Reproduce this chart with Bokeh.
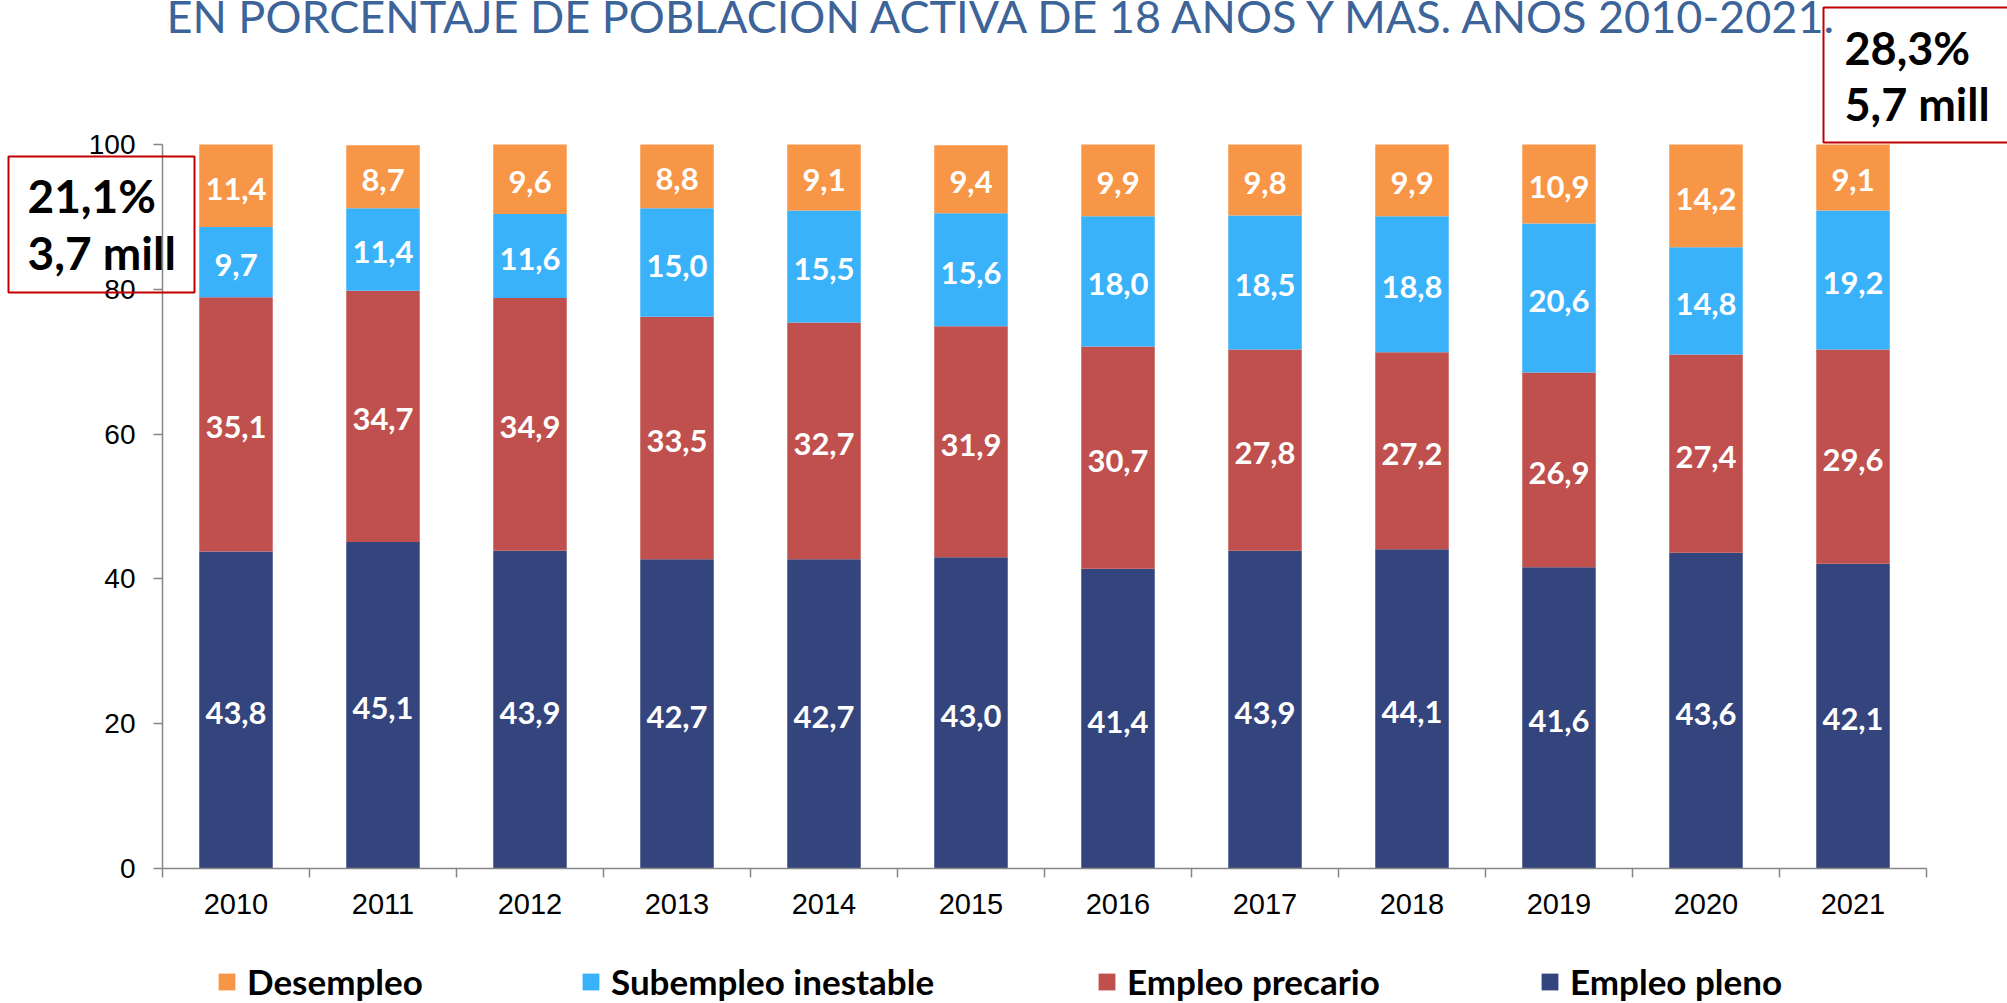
import numpy as np
from bokeh.plotting import figure
from bokeh.models import (ColumnDataSource, Range1d, FixedTicker, Label, BoxAnnotation,
                          Legend, LegendItem)
from bokeh.core.properties import value
from bokeh.embed import file_html
from bokeh.resources import INLINE

# ---------------- data ----------------
years = ["2010", "2011", "2012", "2013", "2014", "2015", "2016", "2017", "2018", "2019", "2020", "2021"]
empleo_pleno = [43.8, 45.1, 43.9, 42.7, 42.7, 43.0, 41.4, 43.9, 44.1, 41.6, 43.6, 42.1]
empleo_precario = [35.1, 34.7, 34.9, 33.5, 32.7, 31.9, 30.7, 27.8, 27.2, 26.9, 27.4, 29.6]
subempleo_inestable = [9.7, 11.4, 11.6, 15.0, 15.5, 15.6, 18.0, 18.5, 18.8, 20.6, 14.8, 19.2]
desempleo = [11.4, 8.7, 9.6, 8.8, 9.1, 9.4, 9.9, 9.8, 9.9, 10.9, 14.2, 9.1]
series_names = ["Empleo pleno", "Empleo precario", "Subempleo inestable", "Desempleo"]
series_colors = ["#34447D", "#C0504D", "#3AB2FA", "#F79646"]
y_ticks = [0, 20, 40, 60, 80, 100]
title_text = "EN PORCENTAJE DE POBLACIÓN ACTIVA DE 18 AÑOS Y MÁS. AÑOS 2010-2021."
box_left_lines = ["21,1%", "3,7 mill"]
box_right_lines = ["28,3%", "5,7 mill"]

# ---------------- layout constants (pixels) ----------------
W, H = 2007, 1003
X0_PX, CAT_PX = 162.0, 147.0          # left of plot area, width of one category
Y0_PX, Y100_PX = 868.0, 144.0         # pixel rows of 0 % and 100 %
py = (Y0_PX - Y100_PX) / 100.0
LBL_SHIFT = 15                        # compensation for label baseline placement

n = len(years)
xs = np.arange(n) + 0.5
stack_keys = ["pleno", "precario", "subempleo", "desempleo"]
source = ColumnDataSource(dict(x=xs, pleno=empleo_pleno, precario=empleo_precario,
                               subempleo=subempleo_inestable, desempleo=desempleo))

p = figure(width=W, height=H,
           x_range=Range1d(-X0_PX / CAT_PX, (W - X0_PX) / CAT_PX),
           y_range=Range1d((Y0_PX - H) / py, Y0_PX / py),
           output_backend="svg", toolbar_location=None,
           min_border_left=0, min_border_right=0, min_border_top=0, min_border_bottom=0)
p.title.visible = False
p.outline_line_color = None
p.xgrid.visible = False
p.ygrid.visible = False
p.background_fill_color = "white"
p.border_fill_color = "white"

renderers = p.vbar_stack(stack_keys, x="x", width=0.5, source=source,
                         color=series_colors, line_color=None)

# data labels
vals = np.array([empleo_pleno, empleo_precario, subempleo_inestable, desempleo])
tops = np.cumsum(vals, axis=0)
mids = tops - vals / 2
lx, ly, lt = [], [], []
for s in range(vals.shape[0]):
    for i in range(n):
        lx.append(xs[i]); ly.append(mids[s, i])
        lt.append(f"{vals[s, i]:.1f}".replace(".", ","))
p.text(x=lx, y=ly, text=lt, text_color="white", text_font=value("Lato"),
       text_font_style="bold", text_font_size="31px", text_align="center",
       text_baseline="middle", y_offset=3)

# axes (drawn at fixed data locations inside the full-canvas frame)
axis_color = "#868686"
yax = p.yaxis[0]
yax.fixed_location = 0
yax.bounds = (0, 100)
yax.ticker = FixedTicker(ticks=y_ticks)
yax.axis_line_color = axis_color
yax.axis_line_width = 1.5
yax.major_tick_line_color = axis_color
yax.major_tick_line_width = 1.5
yax.major_tick_out = 9
yax.major_tick_in = 0
yax.minor_tick_line_color = None
yax.major_label_standoff = 18
yax.major_label_text_font = "Liberation Sans"
yax.major_label_text_font_size = "28px"
yax.major_label_text_color = "black"

xax = p.xaxis[0]
xax.fixed_location = 0
xax.bounds = (0, n)
xax.ticker = FixedTicker(ticks=list(xs), minor_ticks=list(range(n + 1)))
xax.major_label_overrides = {float(x): y for x, y in zip(xs, years)}
xax.axis_line_color = axis_color
xax.axis_line_width = 1.5
xax.major_tick_line_color = None
xax.major_tick_out = 0
xax.major_tick_in = 0
xax.minor_tick_line_color = axis_color
xax.minor_tick_line_width = 1.5
xax.minor_tick_out = 9
xax.minor_tick_in = 0
xax.major_label_standoff = 16
xax.major_label_text_font = "Liberation Sans"
xax.major_label_text_font_size = "29px"
xax.major_label_text_color = "black"

# title (partly cut off at top, as in reference)
p.add_layout(Label(x=166, y=H - 30 + LBL_SHIFT, x_units="screen", y_units="screen",
                   text=title_text, text_font="Lato", text_font_size="45px",
                   text_color="#3C6499", text_baseline="alphabetic"))

# annotation boxes
box_color = "#C00000"
p.add_layout(BoxAnnotation(left=8, right=194, top=H - 156, bottom=H - 292,
                           left_units="screen", right_units="screen",
                           top_units="screen", bottom_units="screen",
                           fill_color=None, fill_alpha=0, line_color=box_color,
                           line_alpha=1.0, line_width=2))
p.add_layout(BoxAnnotation(left=1823, right=W + 30, top=H - 7, bottom=H - 142,
                           left_units="screen", right_units="screen",
                           top_units="screen", bottom_units="screen",
                           fill_color=None, fill_alpha=0, line_color=box_color,
                           line_alpha=1.0, line_width=2))
for txt, base in zip(box_left_lines, [210, 267]):
    p.add_layout(Label(x=27, y=H - base + LBL_SHIFT, x_units="screen", y_units="screen",
                       text=txt, text_font="Lato", text_font_style="bold",
                       text_font_size="46px", text_color="black", text_baseline="alphabetic"))
for txt, base in zip(box_right_lines, [62, 118]):
    p.add_layout(Label(x=1844, y=H - base + LBL_SHIFT, x_units="screen", y_units="screen",
                       text=txt, text_font="Lato", text_font_style="bold",
                       text_font_size="45px", text_color="black", text_baseline="alphabetic"))

# legends (one per item, order: Desempleo, Subempleo, Precario, Pleno)
legend_x = [216, 580, 1096, 1539]
order = [3, 2, 1, 0]
for lxp, idx in zip(legend_x, order):
    lg = Legend(items=[LegendItem(label=series_names[idx], renderers=[renderers[idx]])],
                location=(lxp, 1), orientation="horizontal",
                padding=0, margin=0, border_line_color=None, background_fill_alpha=0,
                glyph_width=21, glyph_height=21, label_standoff=10,
                label_text_font="Lato", label_text_font_style="bold",
                label_text_font_size="35px", label_text_color="black")
    p.add_layout(lg)

open("out.html", "w").write(file_html(p, INLINE))
